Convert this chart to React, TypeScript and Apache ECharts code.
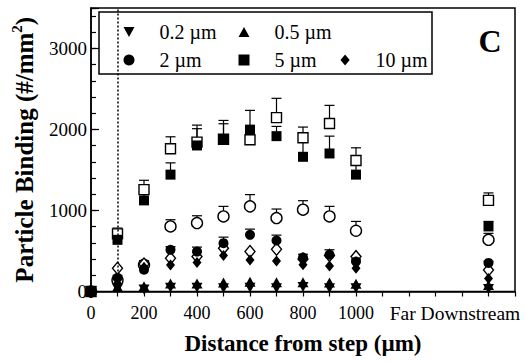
import React, { useEffect, useRef } from 'react';
import * as echarts from 'echarts';

// x positions (µm from step); "Far Downstream" plotted at 1500
const xPositions = [0, 100, 200, 300, 400, 500, 600, 700, 800, 900, 1000, 1500];

// 0.2 µm (filled down triangle)
const p02 = [0, 35, 25, 45, 45, 40, 45, 40, 55, 40, 40, 30];
// 0.5 µm (filled up triangle)
const p05 = [0, 60, 65, 100, 100, 110, 120, 115, 115, 110, 95, 80];
// 2 µm filled / open circles + upper errors
const p2Filled = [0, 170, 270, 514, 493, 597, 700, 630, 420, 455, 369, 353];
const p2FilledErr = [0, 30, 40, 40, 55, 74, 70, 66, 40, 60, 30, 20];
const p2Open = [0, 140, 330, 803, 845, 927, 1051, 907, 1010, 927, 750, 638];
const p2OpenErr = [0, 30, 50, 83, 90, 124, 145, 111, 111, 124, 115, 80];
// 5 µm filled / open squares + upper errors
const p5Filled = [0, 638, 1125, 1443, 1803, 1877, 1993, 1918, 1663, 1704, 1443, 803];
const p5FilledErr = [0, 60, 90, 145, 207, 194, 243, 120, 240, 214, 160, 62];
const p5Open = [0, 712, 1258, 1762, 1844, 1880, 1873, 2146, 1898, 2075, 1617, 1125];
const p5OpenErr = [0, 71, 115, 148, 210, 232, 180, 239, 132, 223, 157, 92];
// 10 µm filled / open diamonds
const p10Filled = [0, 100, 300, 328, 357, 444, 390, 378, 330, 316, 287, 160];
const p10Open = [0, 287, 340, 411, 431, 535, 493, 522, 400, 445, 431, 266];

const yTickLabels = [0, 1000, 2000, 3000];
const xTickLabels = [0, 200, 400, 600, 800, 1000];
const farLabel = 'Far Downstream';

const FONT = 'Liberation Serif';
const DOWN_TRI = 'path://M0,0L10,0L5,9Z';
const UP_TRI = 'path://M5,0L10,9L0,9Z';
const SQUARE = 'path://M0,0L10,0L10,10L0,10Z';
const DIAMOND = 'path://M5,0L10,6L5,12L0,6Z';

const pts = (vals: number[]) => xPositions.map((x, i) => [x, vals[i]]);
const errPts = (vals: number[], errs: number[]) => xPositions.map((x, i) => [x, vals[i], errs[i]]);

function errorSeries(vals: number[], errs: number[]) {
  return {
    type: 'custom',
    z: 1,
    silent: true,
    encode: { x: 0, y: 1 },
    data: errPts(vals, errs),
    renderItem: (params: any, api: any) => {
      const x = api.value(0);
      const v = api.value(1);
      const e = api.value(2);
      if (!e) return null;
      const p0 = api.coord([x, v]);
      const p1 = api.coord([x, v + e]);
      const st = { stroke: '#000', lineWidth: 1.2 };
      return {
        type: 'group',
        children: [
          { type: 'line', shape: { x1: p0[0], y1: p0[1], x2: p1[0], y2: p1[1] }, style: st },
          { type: 'line', shape: { x1: p1[0] - 5, y1: p1[1], x2: p1[0] + 5, y2: p1[1] }, style: st },
        ],
      };
    },
  };
}

function scatter(name: string, vals: number[], symbol: string, size: any, open: boolean, extra: any = {}) {
  return {
    type: 'scatter',
    name,
    z: open ? 2 : 3,
    symbol,
    symbolSize: size,
    data: pts(vals),
    itemStyle: open
      ? { color: '#fff', borderColor: '#000', borderWidth: 1.4, opacity: 1 }
      : { color: '#000', opacity: 1 },
    emphasis: { disabled: true },
    ...extra,
  };
}

function legendAt(name: string, cx: number, cy: number) {
  return {
    data: [name],
    left: cx - 5.5,
    top: cy - 11,
    padding: 0,
    itemWidth: 11,
    itemHeight: 11,
    selectedMode: false,
    formatter: (n: string) => '{t|' + n + '}',
    textStyle: {
      fontFamily: FONT, fontSize: 20, color: '#000',
      rich: { t: { fontFamily: FONT, fontSize: 20, color: '#000', padding: [0, 0, 0, 20] } },
    },
  };
}

export default function App() {
  const ref = useRef<HTMLDivElement>(null);
  useEffect(() => {
    const chart = echarts.init(ref.current!, null, { renderer: 'svg' });
    const option: any = {
      animation: false,
      backgroundColor: '#fff',
      textStyle: { fontFamily: FONT },
      grid: {
        left: 91, right: 10, top: 8, bottom: 70.5,
        show: true, borderColor: '#000', borderWidth: 1.5, backgroundColor: 'transparent',
      },
      legend: [
        legendAt('0.2 µm', 129, 33),
        legendAt('0.5 µm', 244, 33),
        legendAt('2 µm', 129, 61),
        legendAt('5 µm', 244, 61),
        legendAt('10 µm', 346, 61),
      ],
      xAxis: {
        type: 'value',
        min: 0,
        max: 1600,
        interval: 100,
        name: 'Distance from step (µm)',
        nameLocation: 'middle',
        nameGap: 40,
        nameTextStyle: { fontFamily: FONT, fontSize: 23, fontWeight: 'bold', color: '#000' },
        axisLine: { lineStyle: { color: '#000', width: 1.5 } },
        axisTick: { show: true, length: 5, lineStyle: { color: '#000', width: 1.2 } },
        splitLine: { show: false },
        axisLabel: {
          margin: 12,
          fontFamily: FONT,
          fontSize: 18,
          color: '#000',
          formatter: (v: number) => {
            if (v === 1400) return '{f|' + farLabel + '}';
            return xTickLabels.indexOf(v) >= 0 ? String(v) : '';
          },
          rich: { f: { fontFamily: FONT, fontSize: 19.5, color: '#000', padding: [0, 14, 0, 0] } },
        },
      },
      yAxis: [
        {
          type: 'value',
          min: 0,
          max: 3500,
          interval: 1000,
          name: '{b|Particle Binding (#/mm}{s|2}{b|)}',
          nameLocation: 'middle',
          nameGap: 52,
          nameTextStyle: {
            rich: {
              b: { fontFamily: FONT, fontSize: 25, fontWeight: 'bold', color: '#000', lineHeight: 30 },
              s: { fontFamily: FONT, fontSize: 15, fontWeight: 'bold', color: '#000', verticalAlign: 'top', lineHeight: 30 },
            },
          },
          axisLine: { show: true, lineStyle: { color: '#000', width: 1.5 } },
          axisTick: { show: true, inside: true, length: 8, lineStyle: { color: '#000', width: 1.2 } },
          splitLine: { show: false },
          axisLabel: {
            margin: 4,
            fontFamily: FONT,
            fontSize: 19,
            color: '#000',
            formatter: (v: number) => (yTickLabels.indexOf(v) >= 0 ? String(v) : ''),
          },
        },
        {
          type: 'value',
          min: 0,
          max: 3500,
          interval: 200,
          position: 'left',
          axisLine: { show: false },
          axisTick: { show: true, inside: true, length: 5, lineStyle: { color: '#000', width: 1.2 } },
          axisLabel: { show: false },
          splitLine: { show: false },
        },
      ],
      graphic: [
        {
          type: 'rect',
          shape: { x: 99, y: 12, width: 333, height: 62 },
          style: { fill: 'none', stroke: '#000', lineWidth: 1.5 },
          z: 10,
        },
        {
          type: 'text',
          x: 490,
          y: 41,
          style: {
            text: 'C', fontFamily: FONT, fontSize: 32, fontWeight: 'bold', fill: '#000',
            align: 'center', verticalAlign: 'middle',
          },
          z: 10,
        },
      ],
      series: [
        errorSeries(p5Open, p5OpenErr),
        errorSeries(p5Filled, p5FilledErr),
        errorSeries(p2Open, p2OpenErr),
        errorSeries(p2Filled, p2FilledErr),
        scatter('5 µm open', p5Open, SQUARE, 10, true, {
          markLine: {
            silent: true,
            symbol: 'none',
            label: { show: false },
            lineStyle: { type: [2, 2], color: '#000', width: 1.5 },
            data: [{ xAxis: 100 }],
          },
        }),
        scatter('2 µm open', p2Open, 'circle', 11, true),
        scatter('10 µm open', p10Open, DIAMOND, [10, 12], true),
        scatter('0.2 µm', p02, DOWN_TRI, [11, 10], false),
        scatter('0.5 µm', p05, UP_TRI, [11, 10], false),
        scatter('2 µm', p2Filled, 'circle', 10, false),
        scatter('5 µm', p5Filled, SQUARE, 10, false),
        scatter('10 µm', p10Filled, DIAMOND, [9, 11], false),
      ],
    };
    chart.setOption(option);
    return () => chart.dispose();
  }, []);
  return <div ref={ref} style={{ position: 'fixed', left: 0, top: 0, width: 525, height: 362 }} />;
}
